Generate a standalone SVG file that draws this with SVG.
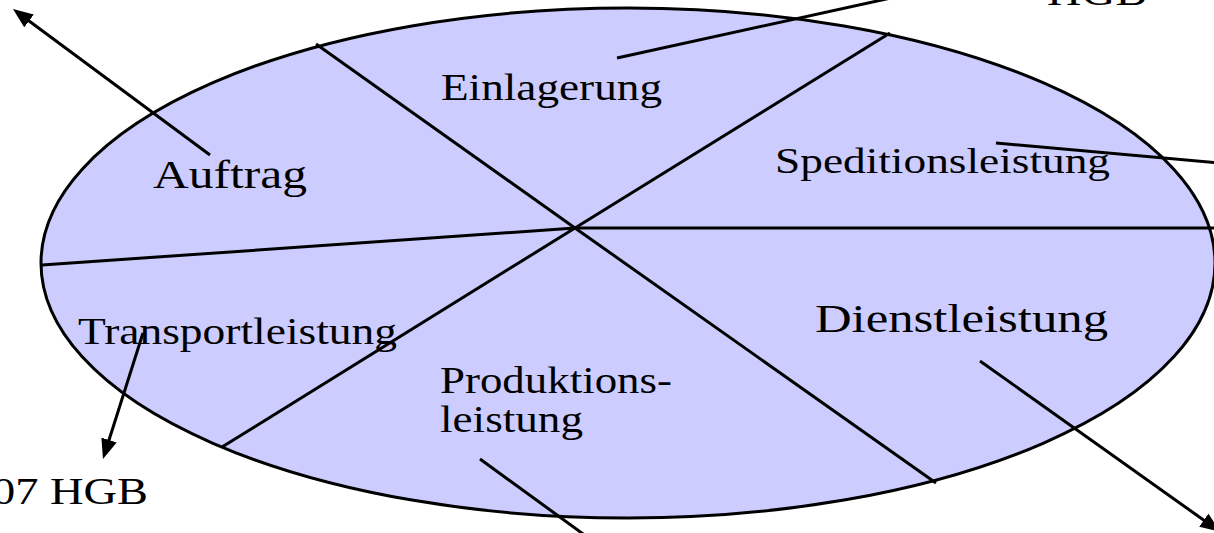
<svg xmlns="http://www.w3.org/2000/svg" width="1214" height="533" viewBox="0 0 1214 533">
<style>
.lbl{font-family:"Liberation Serif","Times New Roman",serif;fill:#000}
.ln{stroke:#000;stroke-width:3;fill:none}
</style>
<defs>
<marker id="ah" markerUnits="userSpaceOnUse" markerWidth="20" markerHeight="16" refX="10" refY="8" orient="auto">
<path d="M0,0 L20,8 L0,16 z" fill="#000"/>
</marker>
</defs>
<rect width="1214" height="533" fill="#fff"/>
<g id="ellipse">
<ellipse cx="628" cy="263" rx="587" ry="255" fill="#CCCCFF" stroke="#000" stroke-width="3"/>
</g>
<g id="dividers" class="ln">
<line x1="575" y1="228" x2="316" y2="44"/>
<line x1="575" y1="228" x2="890" y2="33"/>
<line x1="575" y1="228" x2="1216" y2="228"/>
<line x1="575" y1="228" x2="42" y2="265"/>
<line x1="575" y1="228" x2="222" y2="447"/>
<line x1="575" y1="228" x2="936" y2="483"/>
</g>
<g id="connectors" class="ln">
<line x1="210" y1="155" x2="21" y2="15" marker-end="url(#ah)"/>
<line x1="617" y1="58" x2="900" y2="-4"/>
<line x1="996" y1="143" x2="1220" y2="163"/>
<line x1="143" y1="333" x2="106" y2="449.5" marker-end="url(#ah)"/>
<line x1="980" y1="361" x2="1212" y2="526" marker-end="url(#ah)"/>
<line x1="480" y1="459" x2="590" y2="539"/>
</g>
<g id="einlagerung"><text class="lbl" x="441" y="100" font-size="37" textLength="221" lengthAdjust="spacingAndGlyphs">Einlagerung</text></g>
<g id="auftrag"><text class="lbl" x="153" y="188" font-size="39" textLength="154" lengthAdjust="spacingAndGlyphs">Auftrag</text></g>
<g id="speditionsleistung"><text class="lbl" x="775" y="173" font-size="36" textLength="335" lengthAdjust="spacingAndGlyphs">Speditionsleistung</text></g>
<g id="transportleistung"><text class="lbl" x="78" y="344" font-size="37" textLength="319" lengthAdjust="spacingAndGlyphs">Transportleistung</text></g>
<g id="dienstleistung"><text class="lbl" x="815" y="332" font-size="41" textLength="293" lengthAdjust="spacingAndGlyphs">Dienstleistung</text></g>
<g id="produktionsleistung">
<text class="lbl" x="440" y="393" font-size="37" textLength="232" lengthAdjust="spacingAndGlyphs">Produktions-</text>
<text class="lbl" x="440" y="432" font-size="37" textLength="143" lengthAdjust="spacingAndGlyphs">leistung</text>
</g>
<g id="hgb-bottom"><text class="lbl" x="-8" y="504" font-size="37" textLength="156" lengthAdjust="spacingAndGlyphs">07 HGB</text></g>
<g id="hgb-top"><text class="lbl" x="1047" y="5" font-size="37" textLength="100" lengthAdjust="spacingAndGlyphs">HGB</text></g>
</svg>
